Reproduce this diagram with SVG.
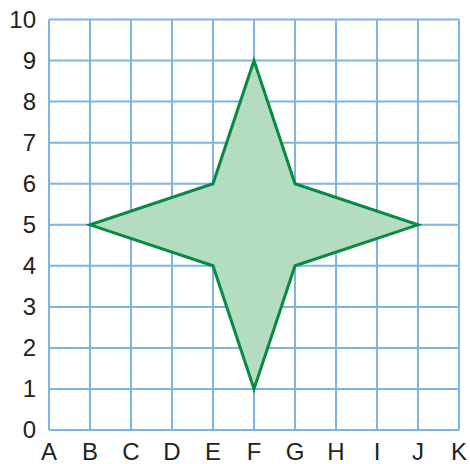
<svg xmlns="http://www.w3.org/2000/svg" width="470" height="464" viewBox="0 0 470 464">
<style>
.g{stroke:#7fb3e3;stroke-width:2;fill:none}
.t{font-family:"Liberation Sans",Arial,sans-serif;font-size:24px;fill:#231f20}
.yl{text-anchor:end}
.xl{text-anchor:middle}
</style>
<rect width="470" height="464" fill="#ffffff"/>
<g id="grid">
<path class="g" d="M49 19.5V430M90 19.5V430M131 19.5V430M172 19.5V430M213 19.5V430M254 19.5V430M295 19.5V430M336 19.5V430M377 19.5V430M418 19.5V430M459 19.5V430"/>
<path class="g" d="M49 19.5H459M49 60.6H459M49 101.6H459M49 142.7H459M49 183.7H459M49 224.8H459M49 265.8H459M49 306.9H459M49 347.9H459M49 389H459M49 430H459"/>
</g>
<g id="star">
<polygon points="254,60.6 295,183.7 418,224.8 295,265.8 254,389 213,265.8 90,224.8 213,183.7" fill="#b3dcc1" stroke="#098a42" stroke-width="3" stroke-linejoin="miter"/>
</g>
<g id="ylabels">
<text x="36" y="28" class="t yl">10</text>
<text x="36" y="69" class="t yl">9</text>
<text x="36" y="110" class="t yl">8</text>
<text x="36" y="151" class="t yl">7</text>
<text x="36" y="192" class="t yl">6</text>
<text x="36" y="233" class="t yl">5</text>
<text x="36" y="274" class="t yl">4</text>
<text x="36" y="315" class="t yl">3</text>
<text x="36" y="356" class="t yl">2</text>
<text x="36" y="397" class="t yl">1</text>
<text x="36" y="438" class="t yl">0</text>
</g>
<g id="xlabels">
<text x="49" y="460" class="t xl">A</text>
<text x="90" y="460" class="t xl">B</text>
<text x="131" y="460" class="t xl">C</text>
<text x="172" y="460" class="t xl">D</text>
<text x="213" y="460" class="t xl">E</text>
<text x="254" y="460" class="t xl">F</text>
<text x="295" y="460" class="t xl">G</text>
<text x="336" y="460" class="t xl">H</text>
<text x="377" y="460" class="t xl">I</text>
<text x="418" y="460" class="t xl">J</text>
<text x="459" y="460" class="t xl">K</text>
</g>
</svg>
